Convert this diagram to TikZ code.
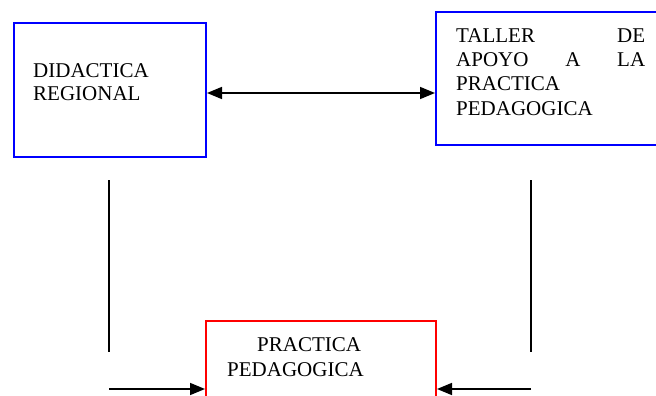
\documentclass[tikz,border=0pt]{standalone}
\usepackage{fontspec}
\setmainfont{Liberation Serif}
\usetikzlibrary{arrows.meta}
\begin{document}
\begin{tikzpicture}[x=1pt,y=-1pt,
  box/.style={draw=#1, line width=2pt, inner sep=0pt, anchor=north west},
  boxtext/.style={anchor=north west, inner sep=0pt, align=left,
    font=\fontsize{21}{#1}\selectfont},
  link/.style={line width=1.6pt},
  tip/.style={-{Triangle[length=15pt,width=12pt]}},
  both tips/.style={{Triangle[length=15pt,width=12pt]}-{Triangle[length=15pt,width=12pt]}},
]
\clip (0,0) rectangle (656,396);

% boxes
\node[box=blue, minimum width=192.3pt, minimum height=134pt] (didactica) at (12.7,21.7) {};
\node[box=blue, minimum width=225pt, minimum height=133.6pt] (taller) at (435,10.7) {};
\node[box=red, minimum width=230pt, minimum height=90pt] (practica) at (205,320) {};

% box texts
\node[boxtext=23] (didacticaText) at (33,63.1) {DIDACTICA\\REGIONAL};
\node[boxtext=24.3] (tallerText) at (456,28.1)
  {\hbox to 189pt{TALLER\hfill DE}\\\hbox to 189pt{APOYO\hfill A\hfill LA}\\PRACTICA\\PEDAGOGICA};
\node[boxtext=25] (practicaText) at (227,337)
  {\hspace*{30pt}PRACTICA\\PEDAGOGICA};

% free ends of the side connectors
\coordinate (lTop) at (109,180);
\coordinate (lBot) at (109,352);
\coordinate (lFoot) at (109,389);
\coordinate (rTop) at (531,180);
\coordinate (rBot) at (531,352);
\coordinate (rFoot) at (531,389);
\coordinate (mid) at (320,93);

% connectors
\draw[link, both tips] (didactica.east |- mid) -- (taller.west |- mid);
\draw[link] (lTop) -- (lBot);
\draw[link] (rTop) -- (rBot);
\draw[link, tip] (lFoot) -- (practica.west |- lFoot);
\draw[link, tip] (rFoot) -- (practica.east |- rFoot);
\end{tikzpicture}
\end{document}
